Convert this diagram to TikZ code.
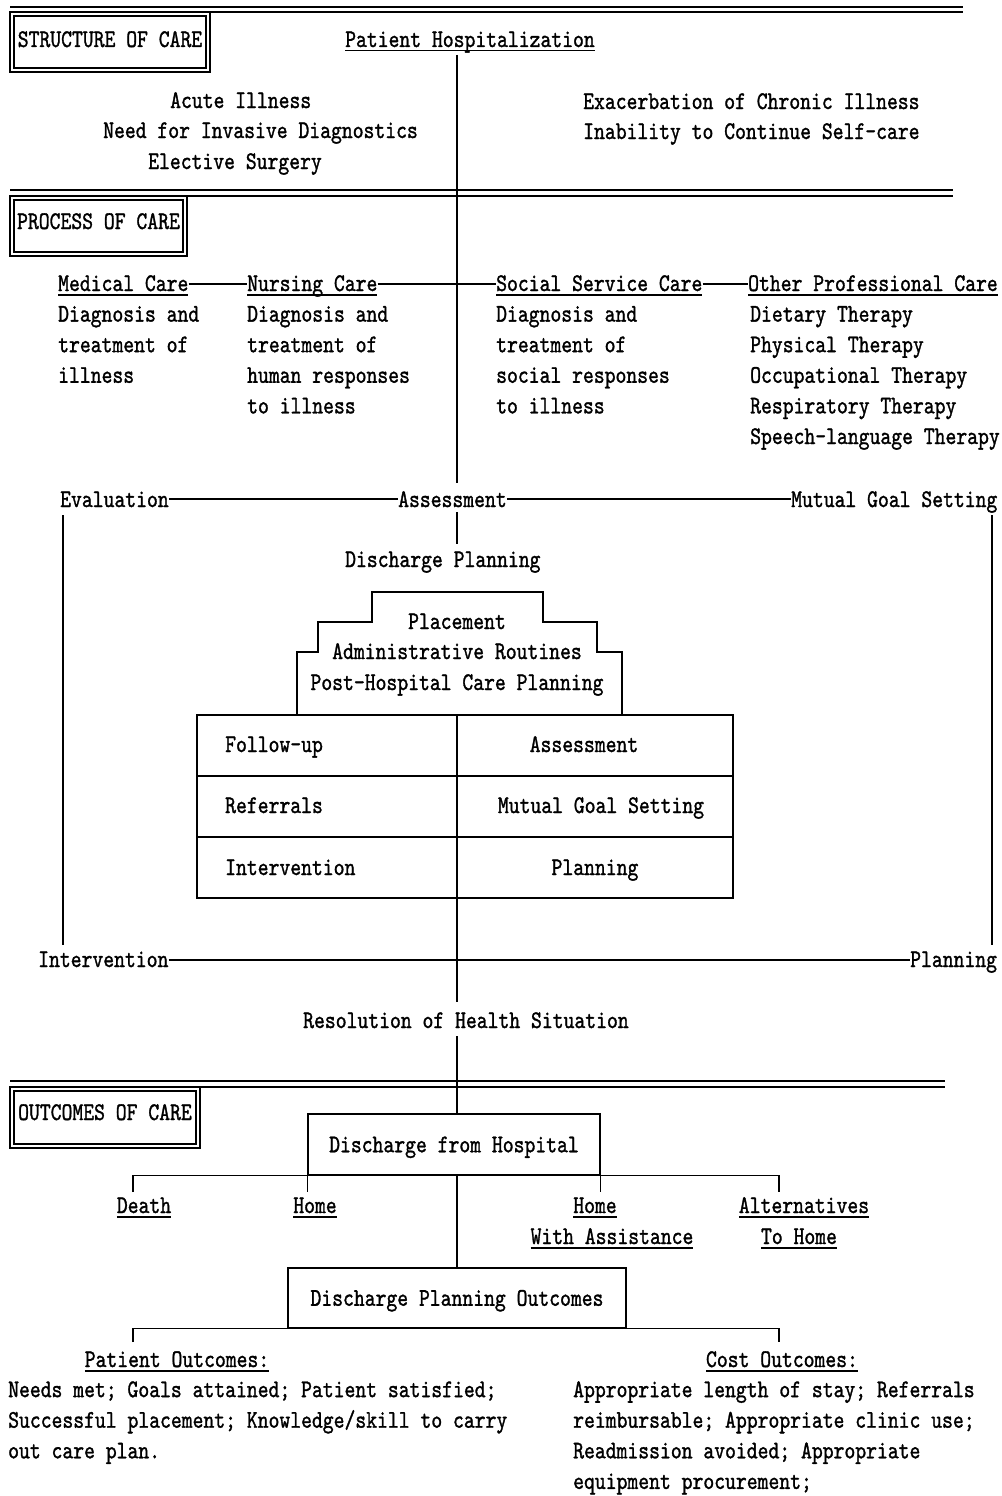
\documentclass[tikz,border=0pt]{standalone}
\usepackage{fontspec}
\newfontfamily\tw{lmmono10-regular.otf}[FakeStretch=0.8137,FakeBold=1.2]
\newcommand\twf{\tw\fontsize{25.4pt}{30.6pt}\selectfont}
\newsavebox\ulbox
\newcommand\myul[1]{\sbox\ulbox{#1}\rlap{\rule[-4.5pt]{\wd\ulbox}{1.5pt}}\usebox\ulbox}
\tikzset{
  tx/.style={inner sep=0pt, anchor=base west, font=\twf},
  tc/.style={inner sep=0pt, anchor=base, font=\twf},
  ln/.style={line width=1.3pt},
  dl/.style={line width=1.6pt},
  bx/.style={draw, line width=1.3pt, inner sep=0pt, font=\twf, text height=15.5pt, text depth=0pt},
}
\begin{document}
\begin{tikzpicture}[x=1pt,y=-1pt]
\useasboundingbox[fill=white] (0,0) rectangle (1001,1496);
\coordinate (cx) at (457,0);

% ---------- STRUCTURE OF CARE ----------
\draw[dl] (10,7) -- (963,7);
\draw[dl] (10,12) -- (963,12);
\draw[ln] (10,12) rectangle (210,72);
\draw[ln] (14,16) rectangle (206,68);
\node[tc] (soc) at (110,47) {STRUCTURE OF CARE};
\node[tx] (hosp) at (345,47) {\myul{Patient Hospitalization}};
\node[tx] (a1) at (170,108) {Acute Illness};
\node[tx] (a2) at (103,138) {Need for Invasive Diagnostics};
\node[tx] (a3) at (148,169) {Elective Surgery};
\node[tx] (b1) at (583,109) {Exacerbation of Chronic Illness};
\node[tx] (b2) at (583,139) {Inability to Continue Self-care};

% ---------- PROCESS OF CARE ----------
\draw[dl] (10,190) -- (953,190);
\draw[dl] (10,196) -- (953,196);
\draw[ln] (10,196) rectangle (187,256);
\draw[ln] (14,200) rectangle (183,252);
\node[tc] (poc) at (98.5,229) {PROCESS OF CARE};

\node[tx] (med) at (58,291) {\myul{Medical Care}};
\node[tx] (nurs) at (247,291) {\myul{Nursing Care}};
\node[tx] (ssc) at (496,291) {\myul{Social Service Care}};
\node[tx] (oth) at (748,291) {\myul{Other Professional Care}};
\foreach \t [count=\i] in {Diagnosis and, treatment of, illness}
  \node[tx] (med\i) at (58,{291+30.6*\i}) {\t};
\foreach \t [count=\i] in {Diagnosis and, treatment of, human responses, to illness}
  \node[tx] (nurs\i) at (247,{291+30.6*\i}) {\t};
\foreach \t [count=\i] in {Diagnosis and, treatment of, social responses, to illness}
  \node[tx] (ssc\i) at (496,{291+30.6*\i}) {\t};
\foreach \t [count=\i] in {Dietary Therapy, Physical Therapy, Occupational Therapy, Respiratory Therapy, Speech-language Therapy}
  \node[tx] (oth\i) at (750,{291+30.6*\i}) {\t};
\draw[ln] ([yshift=7pt]med.base east) -- ([yshift=7pt]nurs.base west);
\draw[ln] ([yshift=7pt]nurs.base east) -- ([yshift=7pt]ssc.base west);
\draw[ln] ([yshift=7pt]ssc.base east) -- ([yshift=7pt]oth.base west);

\node[tx] (eval) at (60,507) {Evaluation};
\node[tx] (assess) at (398,507) {Assessment};
\node[tx] (mgs) at (791,507) {Mutual Goal Setting};
\draw[ln] ([yshift=8pt]eval.base east) -- ([yshift=8pt]assess.base west);
\draw[ln] ([yshift=8pt]assess.base east) -- ([yshift=8pt]mgs.base west);

\draw[ln] ([yshift=-2pt]hosp.south -| cx) -- ([yshift=8pt]assess.north -| cx);

\node[tx] (dp) at (345,567) {Discharge Planning};
\draw[ln] ([yshift=-5pt]assess.south -| cx) -- ([yshift=7pt]dp.north -| cx);

% stepped box
\draw[ln] (297,715) -- (297,652) -- (318,652) -- (318,622) -- (372,622) -- (372,592)
  -- (543,592) -- (543,622) -- (597,622) -- (597,652) -- (622,652) -- (622,715);
\node[tc] (pl1) at (457,629) {Placement};
\node[tc] (pl2) at (457,659) {Administrative Routines};
\node[tc] (pl3) at (457,690) {Post-Hospital Care Planning};

% table
\draw[ln] (197,715) rectangle (733,898);
\draw[ln] (197,776) -- (733,776);
\draw[ln] (197,837) -- (733,837);
\node[tx] (t1) at (225,752) {Follow-up};
\node[tc] (t2) at (584,752) {Assessment};
\node[tx] (t3) at (225,813) {Referrals};
\node[tc] (t4) at (601,813) {Mutual Goal Setting};
\node[tx] (t5) at (225,875) {Intervention};
\node[tc] (t6) at (595,875) {Planning};

% cycle sides
\coordinate (lvt) at (63,515);
\coordinate (lvb) at (63,945);
\coordinate (rvt) at (992,515);
\coordinate (rvb) at (992,945);
\draw[ln] (lvt) -- (lvb);
\draw[ln] (rvt) -- (rvb);
\node[tx] (interv) at (38,967) {Intervention};
\node[tx] (plan) at (910,967) {Planning};
\draw[ln] ([yshift=7pt]interv.base east) -- ([yshift=7pt]plan.base west);

\node[tx] (res) at (303,1028) {Resolution of Health Situation};
\coordinate (tabtop) at (457,715);
\draw[ln] (tabtop) -- ([yshift=10pt]res.north -| cx);

% ---------- OUTCOMES OF CARE ----------
\draw[dl] (10,1081) -- (945,1081);
\draw[dl] (10,1087) -- (945,1087);
\draw[ln] (10,1087) rectangle (200,1148);
\draw[ln] (14,1091) rectangle (196,1144);
\node[tc] (ooc) at (105,1120) {OUTCOMES OF CARE};

\node[bx, minimum width=292pt, minimum height=61pt] (dfh) at (454,1144.5) {Discharge from Hospital};
\draw[ln] ([yshift=-8pt]res.south -| cx) -- (dfh.north -| cx);

\coordinate (dL) at (133,1192);
\coordinate (dR) at (779,1192);
\draw[ln] (dL) |- (dfh.south) -| (dR);
\draw[ln] (dfh.south west) -- (dfh.south west |- dL);
\draw[ln] (dfh.south east) -- (dfh.south east |- dL);

\node[tc] (death) at (144,1213) {\myul{Death}};
\node[tc] (home) at (315,1213) {\myul{Home}};
\node[tc] (homea) at (595,1213) {\myul{Home}};
\node[tc] (homeb) at (612,1244) {\myul{With Assistance}};
\node[tc] (alt) at (804,1213) {\myul{Alternatives}};
\node[tc] (altb) at (799,1244) {\myul{To Home}};

\node[bx, minimum width=338pt, minimum height=60pt] (dpo) at (457,1298) {Discharge Planning Outcomes};
\draw[ln] (dfh.south -| cx) -- (dpo.north -| cx);

\coordinate (pL) at (133,1342);
\coordinate (pR) at (779,1342);
\draw[ln] (pL) |- (dpo.south) -| (pR);

\node[tc] (po) at (177,1367) {\myul{Patient Outcomes:}};
\foreach \t [count=\i] in {Needs met; Goals attained; Patient satisfied;, Successful placement; Knowledge/skill to carry, out care plan.}
  \node[tx] (po\i) at (8,{1366.5+30.6*\i}) {\t};
\node[tc] (co) at (782,1367) {\myul{Cost Outcomes:}};
\foreach \t [count=\i] in {Appropriate length of stay; Referrals, reimbursable; Appropriate clinic use;, Readmission avoided; Appropriate, equipment procurement;}
  \node[tx] (co\i) at (573,{1366.5+30.6*\i}) {\t};
\end{tikzpicture}
\end{document}
